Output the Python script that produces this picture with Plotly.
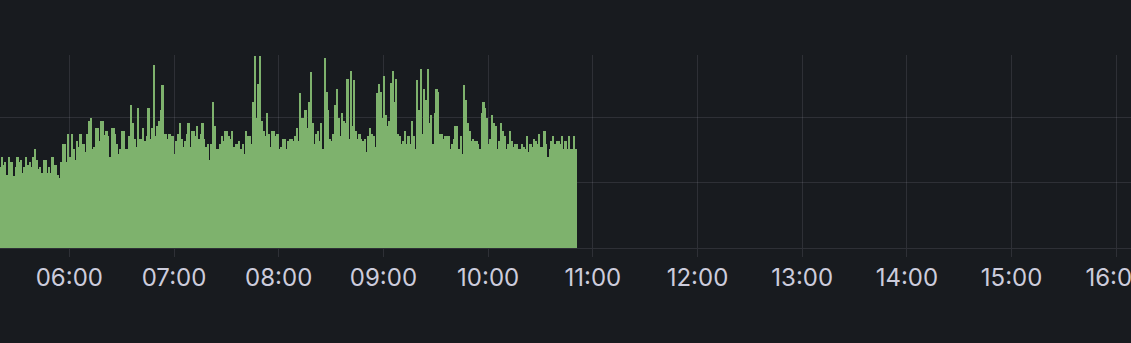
import pandas as pd
import plotly.graph_objects as go

# per-minute values (gridlines at 50 and 100)
vals_0520 = [62,70,64,66,56,70,66,66,55,62,70,66,68,58,62,70,64,66,62,70,
             76,68,61,62,58,68,68,58,62,58,70,64,64,56,54,66,80,80,66,88,
             70,88,76,68,82,78,88,80,80,74,88,98,100,76,78,92,92]
vals_0617 = [82,98,98,87,90,86,70,92,92,88,80,72,76,90,90,76,76,86,110,96,
             84,78,108,84,84,92,82,86,108,84,92,141,86,94,98,106,125,88,88,84,
             88,86,86,72,82,88,96,84,78,82,88,96,78,90,90]
vals_0712 = [86,94,84,88,96,84,78,80,68,80,112,94,76,76,80,86,82,90,90,86,
             84,90,78,80,80,82,76,80,72,90,86,86,80,112,148,100,126,148,98,90,
             86,104,88,78,90,90,86,88,76,78,84,84,76,82]
vals_0806 = [84,84,82,86,92,82,119,100,100,106,92,112,135,96,80,88,90,82,96,76,
             146,120,106,84,82,88,110,122,100,86,104,98,96,130,84,136,94,129,90,84,
             88,84,82,84,74,86,92,88,86,78,119,126,120,100,132]
vals_0901 = [102,94,98,127,136,112,130,88,86,80,82,90,80,86,80,98,86,76,129,106,
             138,88,122,114,138,96,102,80,104,122,120,88,88,84,86,86,86,76,80,84,
             94,94,76,86,72,125,114,96,90,82,84,82,82,80]
vals_0955 = [76,104,112,108,100,80,84,102,96,94,76,82,96,90,86,76,80,90,82,78,
             80,80,76,76,80,78,76,86,74,80,78,84,82,80,88,78,78,90,80,70,
             76,82,86,80,82,82,80,86,76,82,76,86,76,76,86,76]

values = vals_0520 + vals_0617 + vals_0712 + vals_0806 + vals_0901 + vals_0955
start_time = "2024-01-01 05:20:30"
times = pd.date_range(start_time, periods=len(values), freq="min")

x_start = "2024-01-01 05:20:17"
x_end = "2024-01-01 16:08:25"

BG = "#181b1f"
GRID = "rgba(204,204,220,0.12)"
TXT = "#ccccdc"

fig = go.Figure(go.Bar(
    x=times, y=values,
    width=60000,
    marker=dict(color="#7eb26d", line=dict(width=0)),
    hoverinfo="skip",
))

fig.update_layout(
    width=1131, height=343,
    margin=dict(l=0, r=0, t=55, b=95, autoexpand=False),
    paper_bgcolor=BG, plot_bgcolor=BG,
    bargap=0, showlegend=False,
    font=dict(family="Inter", size=24, color=TXT),
)
fig.update_xaxes(
    type="date", range=[x_start, x_end],
    tickformat="%H:%M", dtick=3600000, tick0="2024-01-01 00:00",
    showgrid=True, gridcolor=GRID, gridwidth=1,
    ticks="outside", ticklen=8, tickcolor=GRID, tickwidth=1,
    showline=False, zeroline=False,
    ticklabeloverflow="allow", automargin=False,
    tickfont=dict(family="Inter", size=24, color=TXT),
)
fig.update_yaxes(
    range=[0, 148.4], dtick=50, tick0=0,
    showgrid=True, gridcolor=GRID, gridwidth=1,
    showticklabels=False, zeroline=True, zerolinecolor=GRID, zerolinewidth=1,
    showline=False, automargin=False,
)

fig.write_html("out.html")
